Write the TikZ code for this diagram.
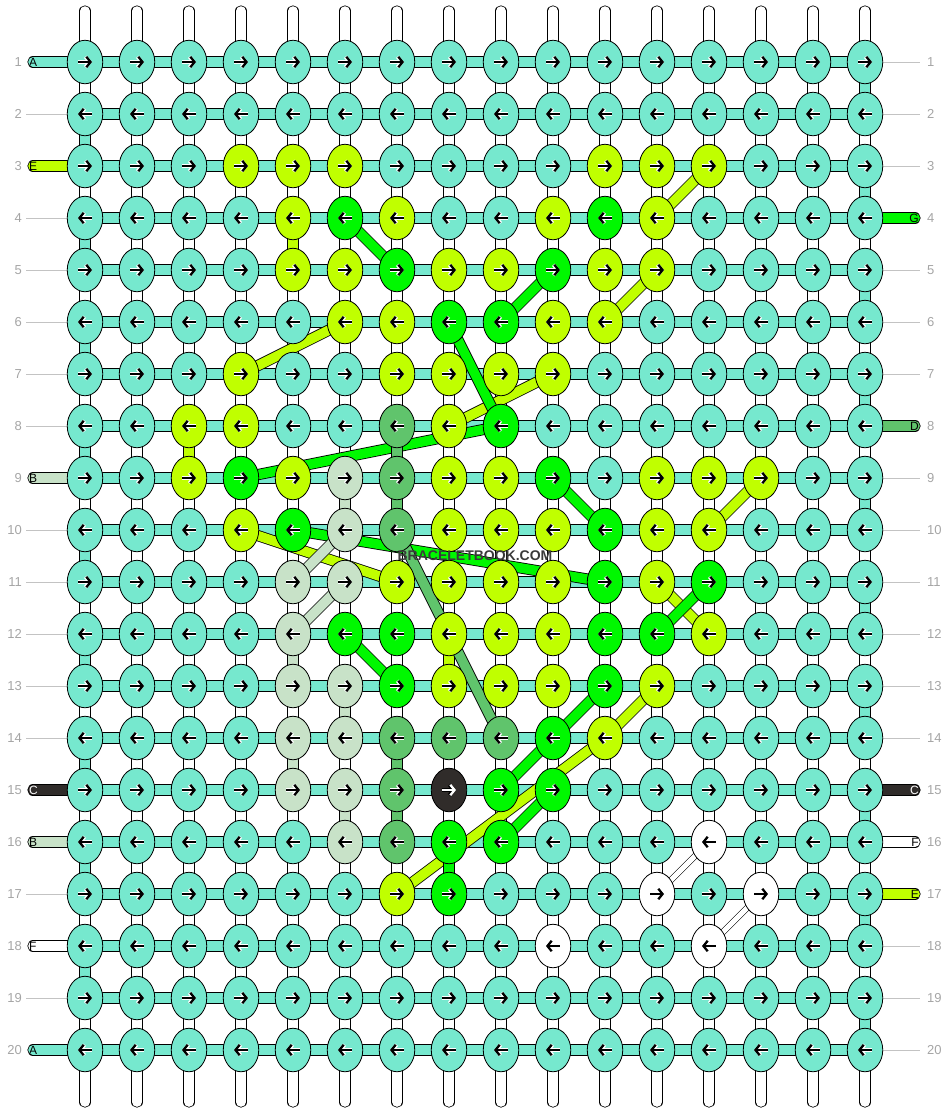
\documentclass[tikz,border=0pt]{standalone}
\usepackage{fontspec}
\setmainfont{Liberation Sans}
\usepackage {tikz}
\usetikzlibrary {positioning}
\usetikzlibrary{shapes.geometric}
\usetikzlibrary{calc}
\usetikzlibrary{arrows.meta}
\definecolor{thrA}{RGB}{118,232,206}
\definecolor{thrB}{RGB}{200,226,200}
\definecolor{thrC}{RGB}{48,44,42}
\definecolor{thrD}{RGB}{96,196,108}
\definecolor{thrE}{RGB}{192,255,0}
\definecolor{thrF}{RGB}{255,255,255}
\definecolor{thrG}{RGB}{0,248,0}
\definecolor{numgray}{RGB}{165,165,165}
\definecolor{warpgray}{RGB}{195,195,195}
\definecolor{markgray}{RGB}{58,58,58}
\colorlet{arrA}{black}
\colorlet{arrB}{black}
\colorlet{arrC}{white}
\colorlet{arrD}{black}
\colorlet{arrE}{black}
\colorlet{arrF}{black}
\colorlet{arrG}{black}
\colorlet{haloA}{white}
\colorlet{haloB}{white}
\colorlet{haloC}{black}
\colorlet{haloD}{white}
\colorlet{haloE}{white}
\colorlet{haloF}{white}
\colorlet{haloG}{white}
\pgfdeclarelayer{strands}
\pgfsetlayers{strands,main}
\tikzset{
    knot/.style = {ellipse, draw, fill=#1, line width=0.8pt, minimum width=35.5pt, minimum height=43.5pt, inner sep=0pt},
    bar/.style = {draw=black, line width=0.8pt, double=#1, double distance=9.6pt},
    link/.style = {bar=#1},
    thinlink/.style = {draw=black, line width=0.6pt, double=#1, double distance=5pt},
    stub/.style = {bar=#1, line cap=round},
    warp/.style = {stub=white},
    warpcore/.style = {draw=warpgray, line width=0.6pt, double=white, double distance=3.4pt},
    guide/.style = {draw=warpgray, line width=0.8pt},
    rownum/.style = {text=numgray, font=\fontsize{13}{13}\selectfont, inner sep=0pt},
    tag/.style = {font=\fontsize{12}{12}\selectfont, inner sep=0pt},
    goR/.style = {-{Straight Barb[length=4.2pt,width=10.5pt]}},
    goL/.style = {{Straight Barb[length=4.2pt,width=10.5pt]}-},
    glyph/.style = {line width=2.3pt, draw=#1},
    halo/.style = {line width=3.7pt, draw=#1}}
\begin{document}
\begin{tikzpicture}[x=52pt,y=-52pt]
    \useasboundingbox (-33pt,10pt) rectangle (915pt,-1102pt);
    \foreach \r/\way/\row in {
        1/R/{A,A,A,A,A,A,A,A,A,A,A,A,A,A,A,A},
        2/L/{A,A,A,A,A,A,A,A,A,A,A,A,A,A,A,A},
        3/R/{A,A,A,E,E,E,A,A,A,A,E,E,E,A,A,A},
        4/L/{A,A,A,A,E,G,E,A,A,E,G,E,A,A,A,A},
        5/R/{A,A,A,A,E,E,G,E,E,G,E,E,A,A,A,A},
        6/L/{A,A,A,A,A,E,E,G,G,E,E,A,A,A,A,A},
        7/R/{A,A,A,E,A,A,E,E,E,E,A,A,A,A,A,A},
        8/L/{A,A,E,E,A,A,D,E,G,A,A,A,A,A,A,A},
        9/R/{A,A,E,G,E,B,D,E,E,G,A,E,E,E,A,A},
        10/L/{A,A,A,E,G,B,D,E,E,E,G,E,E,A,A,A},
        11/R/{A,A,A,A,B,B,E,E,E,E,G,E,G,A,A,A},
        12/L/{A,A,A,A,B,G,G,E,E,E,G,G,E,A,A,A},
        13/R/{A,A,A,A,B,B,G,E,E,E,G,E,A,A,A,A},
        14/L/{A,A,A,A,B,B,D,D,D,G,E,A,A,A,A,A},
        15/R/{A,A,A,A,B,B,D,C,G,G,A,A,A,A,A,A},
        16/L/{A,A,A,A,A,B,D,G,G,A,A,A,F,A,A,A},
        17/R/{A,A,A,A,A,A,E,G,A,A,A,F,A,F,A,A},
        18/L/{A,A,A,A,A,A,A,A,A,F,A,A,F,A,A,A},
        19/R/{A,A,A,A,A,A,A,A,A,A,A,A,A,A,A,A},
        20/L/{A,A,A,A,A,A,A,A,A,A,A,A,A,A,A,A}}
        \foreach \t [count=\c] in \row {
            \node[knot=thr\t] (kn\r-\c) at (\c,\r) {};
            \draw[halo=halo\t,go\way] ($(kn\r-\c)+(-7pt,0)$) -- ($(kn\r-\c)+(7pt,0)$);
            \draw[glyph=arr\t,go\way] ($(kn\r-\c)+(-7pt,0)$) -- ($(kn\r-\c)+(7pt,0)$);
        }
    \node[font=\bfseries\fontsize{14}{14}\selectfont, text=markgray, inner sep=0pt] (mark) at ($(kn10-8)!0.5!(kn11-9)$) {BRACELETBOOK.COM};
    \begin{pgfonlayer}{strands}
        \foreach \c in {1,...,16} {
            \coordinate (wt\c) at ($(kn1-\c)+(0,51pt)$);
            \coordinate (wb\c) at ($(kn20-\c)+(0,-52pt)$);
            \draw[warp] (wt\c) -- (wb\c);
            \draw[warpcore] (wt\c) -- (wb\c);
        }
        \foreach \r in {1,...,20} {
            \draw[bar=thrA] (kn\r-1.center) -- (kn\r-16.center);
            \node[rownum, anchor=east] (nl\r) at ($(kn\r-1)+(-63pt,0)$) {\r};
            \node[rownum, anchor=west] (nr\r) at ($(kn\r-16)+(62pt,0)$) {\r};
        }
        \foreach \r in {2,4,5,6,7,8,10,11,12,13,14,17,19} {
            \coordinate (gl\r) at ($(kn\r-1)+(-59pt,0)$);
            \draw[guide] (gl\r) -- (kn\r-1.center);
        }
        \foreach \r in {1,2,3,5,6,7,9,10,11,12,13,14,18,19,20} {
            \coordinate (gr\r) at ($(kn\r-16)+(55pt,0)$);
            \draw[guide] (kn\r-16.center) -- (gr\r);
        }
        \foreach \r/\t in {1/A,3/E,9/B,15/C,16/B,18/F,20/A} {
            \coordinate (sl\r) at ($(kn\r-1)+(-52pt,0)$);
            \draw[stub=thr\t] (sl\r) -- (kn\r-1.center);
            \node[tag, text=arr\t, anchor=west] (tl\r) at ($(kn\r-1)+(-56pt,0)$) {\t};
        }
        \foreach \r/\t in {4/G,8/D,15/C,16/F,17/E} {
            \coordinate (sr\r) at ($(kn\r-16)+(50pt,0)$);
            \draw[stub=thr\t] (kn\r-16.center) -- (sr\r);
            \node[tag, text=arr\t, anchor=east] (tr\r) at ($(kn\r-16)+(54pt,0)$) {\t};
        }
        \foreach \r [evaluate=\r as \s using int(\r+1)] in {1,3,...,19}
            \draw[link=thrA] (kn\r-16.center) -- (kn\s-16.center);
        \foreach \r [evaluate=\r as \s using int(\r+1)] in {2,4,...,18}
            \draw[link=thrA] (kn\r-1.center) -- (kn\s-1.center);
        \foreach \a/\b/\t in {3-13/4-12/E, 4-5/5-5/E, 5-12/6-11/E, 6-6/7-4/E, 7-10/8-8/E, 8-3/9-3/E,
            9-14/10-13/E, 10-4/11-7/E, 11-12/12-13/E, 12-8/13-8/E, 13-12/14-11/E, 14-11/17-7/E,
            4-6/5-7/G, 5-10/6-9/G, 6-8/8-9/G, 8-9/9-4/G, 9-10/10-11/G, 10-5/11-11/G, 11-13/12-12/G,
            12-6/13-7/G, 13-11/14-10/G, 14-10/15-9/G, 15-10/16-9/G, 16-8/17-8/G,
            8-7/9-7/D, 9-7/10-7/D, 10-7/14-9/D, 14-7/15-7/D, 15-7/16-7/D,
            9-6/10-6/B, 10-6/11-5/B, 11-6/12-5/B, 12-5/13-5/B, 13-6/14-6/B, 14-5/15-5/B, 15-6/16-6/B}
            \draw[link=thr\t] (kn\a.center) -- (kn\b.center);
        \draw[thinlink=thrF] (kn16-13.center) -- (kn17-12.center);
        \draw[thinlink=thrF] (kn17-14.center) -- (kn18-13.center);
    \end{pgfonlayer}
\end{tikzpicture}
\end{document}
